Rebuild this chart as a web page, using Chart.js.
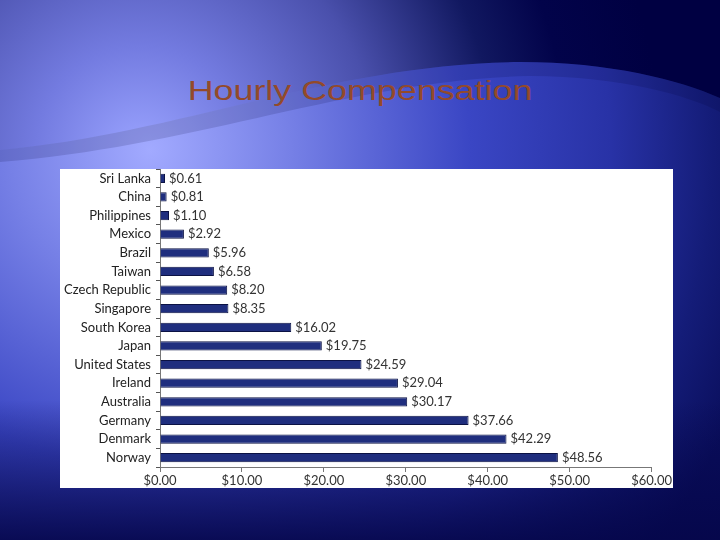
<!DOCTYPE html>
<html>
<head>
<meta charset="utf-8">
<script src="https://cdn.jsdelivr.net/npm/chart.js@4.4.1/dist/chart.umd.min.js"></script>
<style>
  html, body { margin: 0; padding: 0; }
  body { width: 720px; height: 540px; position: relative; overflow: hidden; background: #02034a; }
  #bg { position: absolute; left: 0; top: 0; }
  #title {
    position: absolute; left: 0; top: 75px; width: 720px; text-align: center;
    font-family: "Liberation Sans", Arial, sans-serif; font-size: 28px; color: #934a2a;
    transform: scaleX(1.28); transform-origin: 360px 0;
  }
  #panel { position: absolute; left: 60px; top: 169px; width: 613px; height: 319px; background: #fff; }
</style>
</head>
<body>
<svg id="bg" width="720" height="540">
  <defs>
    <radialGradient id="sky" gradientUnits="userSpaceOnUse" cx="140" cy="150" r="520">
      <stop offset="0" stop-color="#9aa3ff"/>
      <stop offset="0.2" stop-color="#737be0"/>
      <stop offset="0.45" stop-color="#4a50ac"/>
      <stop offset="0.68" stop-color="#111860"/>
      <stop offset="0.82" stop-color="#02034a"/>
      <stop offset="1" stop-color="#000042"/>
    </radialGradient>
    <radialGradient id="wave" gradientUnits="userSpaceOnUse" cx="150" cy="150" r="640">
      <stop offset="0" stop-color="#a2aaff"/>
      <stop offset="0.22" stop-color="#7680e6"/>
      <stop offset="0.5" stop-color="#3a46c4"/>
      <stop offset="0.72" stop-color="#2832a6"/>
      <stop offset="0.88" stop-color="#141c78"/>
      <stop offset="1" stop-color="#0a0e5c"/>
    </radialGradient>
    <linearGradient id="foot" x1="0" y1="0" x2="0" y2="1">
      <stop offset="0" stop-color="#05064a" stop-opacity="0"/>
      <stop offset="1" stop-color="#05064a" stop-opacity="0.9"/>
    </linearGradient>
  </defs>
  <rect width="720" height="540" fill="url(#sky)"/>
  <path d="M0,150 C180,134 330,64 520,62 C610,62 680,80 720,98 L720,540 L0,540 Z" fill="url(#wave)"/>
  <path d="M0,150 C180,134 330,64 520,62 C610,62 680,80 720,98 L720,540 L0,540 Z" fill="#000030" opacity="0.14"/>
  <path d="M0,162 C200,146 350,80 530,76 C620,76 690,96 720,112 L720,540 L0,540 Z" fill="url(#wave)"/>
  <rect x="0" y="400" width="720" height="140" fill="url(#foot)"/>
</svg>
<div id="title">Hourly Compensation</div>
<div id="panel"><canvas id="payChart"></canvas></div>
<script>
// Дані: погодинна оплата праці, долари США
var countries = ['Sri Lanka', 'China', 'Philippines', 'Mexico', 'Brazil', 'Taiwan', 'Czech Republic',
  'Singapore', 'South Korea', 'Japan', 'United States', 'Ireland', 'Australia', 'Germany', 'Denmark', 'Norway'];
var wages = [0.61, 0.81, 1.10, 2.92, 5.96, 6.58, 8.20, 8.35, 16.02, 19.75, 24.59, 29.04, 30.17, 37.66, 42.29, 48.56];
var xTicks = [0, 10, 20, 30, 40, 50, 60];

var labelFont = { family: 'Lato, "DejaVu Sans", sans-serif', size: 13 };

// Підписи значень праворуч від смуг
var valueLabels = {
  id: 'valueLabels',
  afterDatasetsDraw: function(chart) {
    var ctx = chart.ctx;
    var meta = chart.getDatasetMeta(0);
    ctx.save();
    ctx.font = '13px Lato, "DejaVu Sans", sans-serif';
    ctx.fillStyle = '#333';
    ctx.textBaseline = 'middle';
    meta.data.forEach(function(bar, i) {
      ctx.fillText('$' + wages[i].toFixed(2), bar.x + 4, bar.y);
    });
    ctx.restore();
  }
};

var ctx = document.getElementById('payChart').getContext('2d');

var payChart = new Chart(ctx, {
  type: 'bar',
  data: {
    labels: countries,
    datasets: [{
      data: wages,
      backgroundColor: '#1f2e7e',
      borderColor: '#0b1244',
      borderWidth: 1,
      barPercentage: 0.5,
      categoryPercentage: 1
    }]
  },
  options: {
    indexAxis: 'y',
    responsive: true,
    maintainAspectRatio: false,
    animation: false,
    layout: { padding: 0 },
    plugins: { legend: { display: false }, tooltip: { enabled: false } },
    scales: {
      x: {
        min: xTicks[0],
        max: xTicks[xTicks.length - 1],
        afterBuildTicks: function(scale) {
          scale.ticks = xTicks.map(function(v) { return { value: v }; });
        },
        afterFit: function(scale) { scale.height = 21; },
        ticks: {
          font: labelFont,
          color: '#333',
          padding: 1,
          maxRotation: 0,
          callback: function(v) { return '$' + Number(v).toFixed(2); }
        },
        grid: { drawOnChartArea: false, tickLength: 5, color: '#777' },
        border: { color: '#777' }
      },
      y: {
        afterFit: function(scale) {
          scale.width = 100;
          scale.paddingTop = 0;
          scale.paddingBottom = 0;
        },
        ticks: { font: labelFont, color: '#222', padding: 5, autoSkip: false },
        grid: { offset: true, drawOnChartArea: false, tickLength: 4, color: '#555' },
        border: { color: '#777' }
      }
    }
  },
  plugins: [valueLabels]
});
</script>
</body>
</html>
